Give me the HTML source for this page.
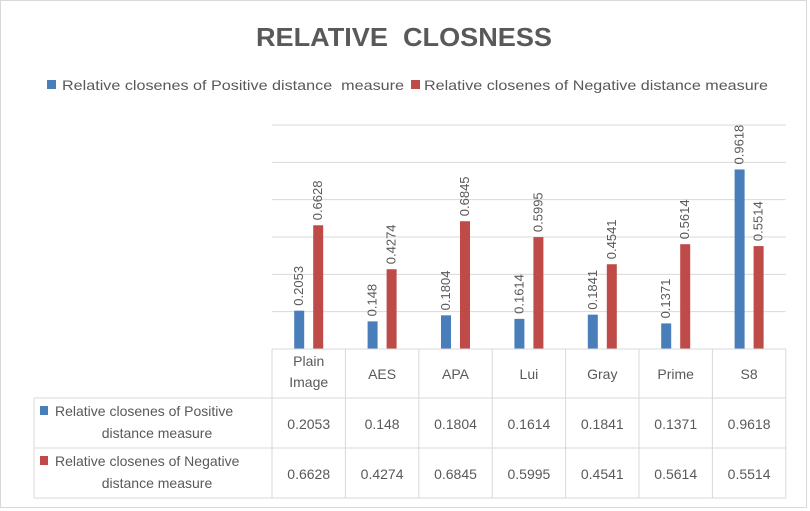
<!DOCTYPE html>
<html><head><meta charset="utf-8"><style>
html,body{margin:0;padding:0;background:#fff;}
svg{display:block;font-family:"Liberation Sans",sans-serif;}
</style></head><body>
<svg id="chart" width="810" height="511" viewBox="0 0 810 511">
<rect x="0.5" y="0.5" width="806" height="507" fill="#fff" stroke="#d9d9d9"/>
<text x="404" y="46" text-anchor="middle" font-size="26" font-weight="bold" fill="#595959" textLength="296" lengthAdjust="spacingAndGlyphs" xml:space="preserve">RELATIVE  CLOSNESS</text>
<g>
<rect x="47" y="80" width="9" height="9" fill="#4a7ebb"/>
<text x="62" y="90" font-size="14" fill="#595959" textLength="342" lengthAdjust="spacingAndGlyphs" xml:space="preserve">Relative closenes of Positive distance  measure</text>
<rect x="411" y="80" width="9" height="9" fill="#be4b48"/>
<text x="424" y="90" font-size="14" fill="#595959" textLength="344" lengthAdjust="spacingAndGlyphs">Relative closenes of Negative distance measure</text>
</g>
<g id="grid"></g>
<g id="bars"></g>
<g id="table"></g>
</svg>
<script>
const categories = ["Plain Image","AES","APA","Lui","Gray","Prime","S8"];
const positive = [0.2053,0.148,0.1804,0.1614,0.1841,0.1371,0.9618];
const negative = [0.6628,0.4274,0.6845,0.5995,0.4541,0.5614,0.5514];
const yTicks = [0,0.2,0.4,0.6,0.8,1.0,1.2];

const NS="http://www.w3.org/2000/svg";
const x0=272, colW=73.4, base=349, plotTop=125, yMax=1.2;
const yScale=v=>base-(v/yMax)*(base-plotTop);
const cx=i=>x0+colW*(i+0.5);
function mk(tag,attrs,parent,txt){const e=document.createElementNS(NS,tag);for(const k in attrs)e.setAttribute(k,attrs[k]);if(txt!==undefined)e.textContent=txt;parent.appendChild(e);return e;}
const grid=document.getElementById('grid'),bars=document.getElementById('bars'),table=document.getElementById('table');
const xEnd=x0+colW*categories.length;
yTicks.forEach(t=>{
  const l=mk('line',{x1:x0,x2:xEnd,y1:yScale(t),y2:yScale(t),stroke:'#d9d9d9','stroke-width':1},grid);
  
  
});
function barSet(vals,color,off,name){
  vals.forEach((v,i)=>{
    const bx=cx(i)+off-5;
    const r=mk('rect',{x:bx,y:yScale(v),width:10,height:base-yScale(v),fill:color},bars);
    
    
    const tx=cx(i)+off+4, ty=yScale(v)-5;
    const t=mk('text',{x:tx,y:ty,'font-size':13,fill:'#595959',transform:`rotate(-90 ${tx} ${ty})`},bars,String(v));
    
    
  });
}
barSet(positive,'#4a7ebb',-9.5,'positive');
barSet(negative,'#be4b48',9.5,'negative');
const rows=[349,398,448,498], tableLeft=34;
const ln=(a,b,c,d)=>{const l=mk('line',{x1:a,y1:b,x2:c,y2:d,stroke:'#d9d9d9','stroke-width':1},table);};
ln(x0,rows[0],xEnd,rows[0]);
ln(tableLeft,rows[1],xEnd,rows[1]);ln(tableLeft,rows[2],xEnd,rows[2]);ln(tableLeft,rows[3],xEnd,rows[3]);
ln(tableLeft,rows[1],tableLeft,rows[3]);
for(let i=0;i<=categories.length;i++){ln(x0+colW*i,rows[0],x0+colW*i,rows[3]);}
categories.forEach((c,i)=>{
  const words=c.split(' ');
  if(words.length>1){
    words.forEach((w,k)=>{const t=mk('text',{x:cx(i),y:366+k*21,'text-anchor':'middle','font-size':14,fill:'#595959'},table,w);});
  } else {
    const t=mk('text',{x:cx(i),y:379,'text-anchor':'middle','font-size':14,fill:'#595959'},table,c);
    
    
  }
  const a=mk('text',{x:cx(i),y:429,'text-anchor':'middle','font-size':14,fill:'#595959'},table,String(positive[i]));
  
  
  const b=mk('text',{x:cx(i),y:479,'text-anchor':'middle','font-size':14,fill:'#595959'},table,String(negative[i]));
  
  
});
function rowHead(yy,color,l1,l2,name){
  const s=mk('rect',{x:40,y:yy-10,width:8,height:9,fill:color},table);
  
  
  const t1=mk('text',{x:55,y:yy,'font-size':14,fill:'#595959'},table,l1);
  
  
  const t2=mk('text',{x:157,y:yy+22,'text-anchor':'middle','font-size':14,fill:'#595959'},table,l2);
  
  
}
rowHead(416,'#4a7ebb','Relative closenes of Positive','distance  measure','positive');
rowHead(466,'#be4b48','Relative closenes of Negative','distance measure','negative');
</script>
</body></html>
